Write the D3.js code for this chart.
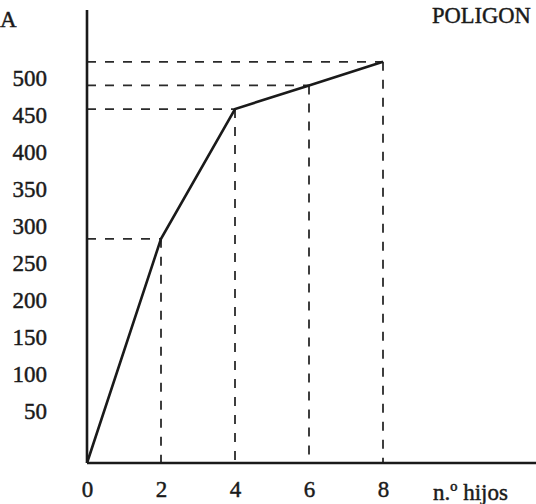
<!DOCTYPE html>
<html>
<head>
<meta charset="utf-8">
<script src="https://cdn.jsdelivr.net/npm/d3@7"></script>
<style>
  html, body { margin: 0; padding: 0; background: #fff; overflow: hidden; }
  svg text { font-family: "Liberation Serif", "DejaVu Serif", serif; fill: #1a1a1a; stroke: #1a1a1a; stroke-width: 0.45px; }
</style>
</head>
<body>
<svg id="chart" width="536" height="504"></svg>
<script>
// Data
const hijos = [0, 2, 4, 6, 8];
const frecAcum = [0, 285, 450, 480, 510];
const xTickLabels = ["0", "2", "4", "6", "8"];
const yTickLabels = [50, 100, 150, 200, 250, 300, 350, 400, 450, 500];
const xAxisTitle = "n.º hijos";
const yAxisTitle = "A";
const chartTitle = "POLIGON";

const svg = d3.select("#chart");
const W = 536, H = 504;

const x = d3.scaleLinear().domain([0, 8]).range([87, 383]);
const y = d3.scaleLinear().domain([0, 500]).range([463, 69.7]);
// printed tick labels sit on their own scale in the original
const yLab = d3.scaleLinear().domain([50, 500]).range([411, 78]);

const ink = "#1a1a1a";

// Dashed reference lines
const pts = hijos.map((h, i) => ({ h, v: frecAcum[i] })).filter(d => d.h > 0);
svg.append("g").selectAll("line.h").data(pts).join("line")
  .attr("x1", x(0)).attr("x2", d => x(d.h))
  .attr("y1", d => y(d.v)).attr("y2", d => y(d.v))
  .attr("stroke", "#2a2a2a").attr("stroke-width", 1.8)
  .attr("stroke-dasharray", "9,9");
svg.append("g").selectAll("line.v").data(pts).join("line")
  .attr("x1", d => x(d.h)).attr("x2", d => x(d.h))
  .attr("y1", d => y(d.v)).attr("y2", y(0))
  .attr("stroke", "#2a2a2a").attr("stroke-width", 1.8)
  .attr("stroke-dasharray", "9,9");

// Axes lines
svg.append("line").attr("x1", x(0)).attr("x2", W).attr("y1", y(0)).attr("y2", y(0))
  .attr("stroke", ink).attr("stroke-width", 2.6);
svg.append("line").attr("x1", x(0)).attr("x2", x(0)).attr("y1", 10).attr("y2", y(0))
  .attr("stroke", ink).attr("stroke-width", 2.6);

// Polygon line
const line = d3.line().x((d, i) => x(hijos[i])).y(d => y(d));
svg.append("path").datum(frecAcum).attr("d", line)
  .attr("fill", "none").attr("stroke", ink).attr("stroke-width", 2.6)
  .attr("stroke-linejoin", "miter");

// X tick labels
const xAxis = d3.axisBottom(x).tickValues(hijos).tickSize(0)
  .tickFormat((d, i) => xTickLabels[i]);
const gx = svg.append("g").attr("transform", "translate(0,478)").call(xAxis);
gx.select(".domain").remove();
gx.selectAll("text").attr("font-size", 23).attr("dy", "0.71em")
  .style("font-family", "'Liberation Serif', serif").attr("fill", ink);

// Y tick labels
const yAxis = d3.axisLeft(yLab).tickValues(yTickLabels).tickSize(0);
const gy = svg.append("g").attr("transform", "translate(47,0)").call(yAxis);
gy.select(".domain").remove();
gy.selectAll("text").attr("font-size", 23).attr("x", 0).attr("dy", "0.33em")
  .style("font-family", "'Liberation Serif', serif").attr("fill", ink);

// Titles
svg.append("text").attr("x", 433).attr("y", 500).attr("font-size", 23).text(xAxisTitle);
svg.append("text").attr("x", 0).attr("y", 27).attr("font-size", 23).text(yAxisTitle);
svg.append("text").attr("x", 432).attr("y", 23).attr("font-size", 22.5).text(chartTitle);
</script>
</body>
</html>
